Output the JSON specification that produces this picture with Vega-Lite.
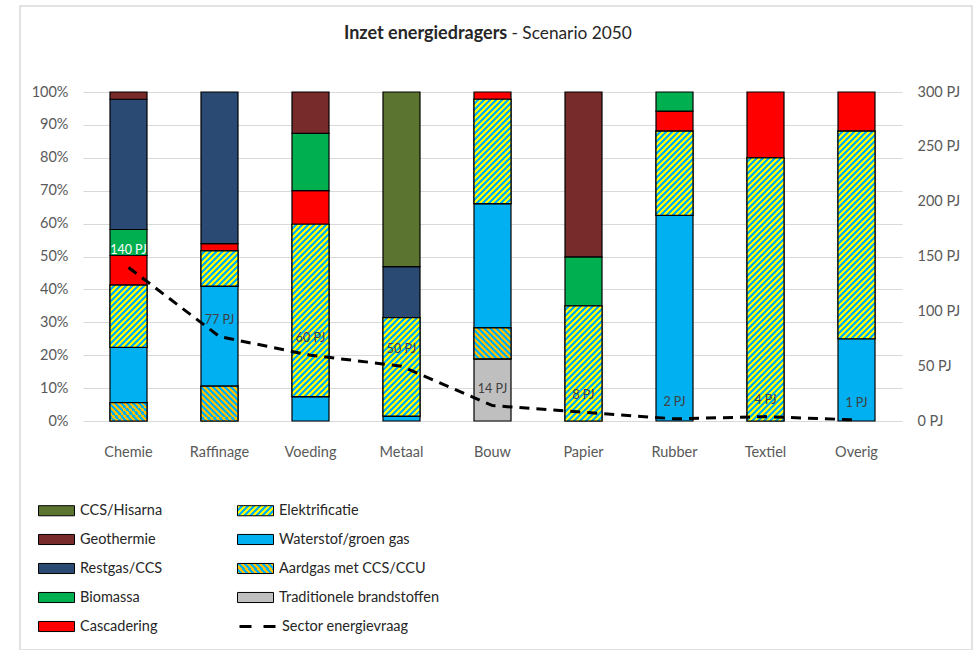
{
  "$schema": "https://vega.github.io/schema/vega-lite/v6.json",
  "autosize": {"type": "none"},
  "padding": {"left": 20, "top": 6, "right": 3, "bottom": 0},
  "width": 952,
  "height": 644,
  "background": "white",
  "title": {"text": "Inzet energiedragers", "anchor": "start", "frame": "group", "dx": 324, "fontSize": 18, "fontWeight": "bold", "font": "Lato", "color": "#262626", "offset": -51, "baseline": "alphabetic"},
  "params": [
    {"name": "stripesYB", "value": [
      {"offset":0,"color":"#ff0"},{"offset":0.01,"color":"#ff0"},{"offset":0.01,"color":"#00b0f0"},{"offset":0.02,"color":"#00b0f0"},
      {"offset":0.02,"color":"#ff0"},{"offset":0.03,"color":"#ff0"},{"offset":0.03,"color":"#00b0f0"},{"offset":0.04,"color":"#00b0f0"},
      {"offset":0.04,"color":"#ff0"},{"offset":0.05,"color":"#ff0"},{"offset":0.05,"color":"#00b0f0"},{"offset":0.06,"color":"#00b0f0"},
      {"offset":0.06,"color":"#ff0"},{"offset":0.07,"color":"#ff0"},{"offset":0.07,"color":"#00b0f0"},{"offset":0.08,"color":"#00b0f0"},
      {"offset":0.08,"color":"#ff0"},{"offset":0.09,"color":"#ff0"},{"offset":0.09,"color":"#00b0f0"},{"offset":0.10,"color":"#00b0f0"},
      {"offset":0.10,"color":"#ff0"},{"offset":0.11,"color":"#ff0"},{"offset":0.11,"color":"#00b0f0"},{"offset":0.12,"color":"#00b0f0"},
      {"offset":0.12,"color":"#ff0"},{"offset":0.13,"color":"#ff0"},{"offset":0.13,"color":"#00b0f0"},{"offset":0.14,"color":"#00b0f0"},
      {"offset":0.14,"color":"#ff0"},{"offset":0.15,"color":"#ff0"},{"offset":0.15,"color":"#00b0f0"},{"offset":0.16,"color":"#00b0f0"},
      {"offset":0.16,"color":"#ff0"},{"offset":0.17,"color":"#ff0"},{"offset":0.17,"color":"#00b0f0"},{"offset":0.18,"color":"#00b0f0"},
      {"offset":0.18,"color":"#ff0"},{"offset":0.19,"color":"#ff0"},{"offset":0.19,"color":"#00b0f0"},{"offset":0.20,"color":"#00b0f0"},
      {"offset":0.20,"color":"#ff0"},{"offset":0.21,"color":"#ff0"},{"offset":0.21,"color":"#00b0f0"},{"offset":0.22,"color":"#00b0f0"},
      {"offset":0.22,"color":"#ff0"},{"offset":0.23,"color":"#ff0"},{"offset":0.23,"color":"#00b0f0"},{"offset":0.24,"color":"#00b0f0"},
      {"offset":0.24,"color":"#ff0"},{"offset":0.25,"color":"#ff0"},{"offset":0.25,"color":"#00b0f0"},{"offset":0.26,"color":"#00b0f0"},
      {"offset":0.26,"color":"#ff0"},{"offset":0.27,"color":"#ff0"},{"offset":0.27,"color":"#00b0f0"},{"offset":0.28,"color":"#00b0f0"},
      {"offset":0.28,"color":"#ff0"},{"offset":0.29,"color":"#ff0"},{"offset":0.29,"color":"#00b0f0"},{"offset":0.30,"color":"#00b0f0"},
      {"offset":0.30,"color":"#ff0"},{"offset":0.31,"color":"#ff0"},{"offset":0.31,"color":"#00b0f0"},{"offset":0.32,"color":"#00b0f0"},
      {"offset":0.32,"color":"#ff0"},{"offset":0.33,"color":"#ff0"},{"offset":0.33,"color":"#00b0f0"},{"offset":0.34,"color":"#00b0f0"},
      {"offset":0.34,"color":"#ff0"},{"offset":0.35,"color":"#ff0"},{"offset":0.35,"color":"#00b0f0"},{"offset":0.36,"color":"#00b0f0"},
      {"offset":0.36,"color":"#ff0"},{"offset":0.37,"color":"#ff0"},{"offset":0.37,"color":"#00b0f0"},{"offset":0.38,"color":"#00b0f0"},
      {"offset":0.38,"color":"#ff0"},{"offset":0.39,"color":"#ff0"},{"offset":0.39,"color":"#00b0f0"},{"offset":0.40,"color":"#00b0f0"},
      {"offset":0.40,"color":"#ff0"},{"offset":0.41,"color":"#ff0"},{"offset":0.41,"color":"#00b0f0"},{"offset":0.42,"color":"#00b0f0"},
      {"offset":0.42,"color":"#ff0"},{"offset":0.43,"color":"#ff0"},{"offset":0.43,"color":"#00b0f0"},{"offset":0.44,"color":"#00b0f0"},
      {"offset":0.44,"color":"#ff0"},{"offset":0.45,"color":"#ff0"},{"offset":0.45,"color":"#00b0f0"},{"offset":0.46,"color":"#00b0f0"},
      {"offset":0.46,"color":"#ff0"},{"offset":0.47,"color":"#ff0"},{"offset":0.47,"color":"#00b0f0"},{"offset":0.48,"color":"#00b0f0"},
      {"offset":0.48,"color":"#ff0"},{"offset":0.49,"color":"#ff0"},{"offset":0.49,"color":"#00b0f0"},{"offset":0.50,"color":"#00b0f0"},
      {"offset":0.50,"color":"#ff0"},{"offset":0.51,"color":"#ff0"},{"offset":0.51,"color":"#00b0f0"},{"offset":0.52,"color":"#00b0f0"},
      {"offset":0.52,"color":"#ff0"},{"offset":0.53,"color":"#ff0"},{"offset":0.53,"color":"#00b0f0"},{"offset":0.54,"color":"#00b0f0"},
      {"offset":0.54,"color":"#ff0"},{"offset":0.55,"color":"#ff0"},{"offset":0.55,"color":"#00b0f0"},{"offset":0.56,"color":"#00b0f0"},
      {"offset":0.56,"color":"#ff0"},{"offset":0.57,"color":"#ff0"},{"offset":0.57,"color":"#00b0f0"},{"offset":0.58,"color":"#00b0f0"},
      {"offset":0.58,"color":"#ff0"},{"offset":0.59,"color":"#ff0"},{"offset":0.59,"color":"#00b0f0"},{"offset":0.60,"color":"#00b0f0"},
      {"offset":0.60,"color":"#ff0"},{"offset":0.61,"color":"#ff0"},{"offset":0.61,"color":"#00b0f0"},{"offset":0.62,"color":"#00b0f0"},
      {"offset":0.62,"color":"#ff0"},{"offset":0.63,"color":"#ff0"},{"offset":0.63,"color":"#00b0f0"},{"offset":0.64,"color":"#00b0f0"},
      {"offset":0.64,"color":"#ff0"},{"offset":0.65,"color":"#ff0"},{"offset":0.65,"color":"#00b0f0"},{"offset":0.66,"color":"#00b0f0"},
      {"offset":0.66,"color":"#ff0"},{"offset":0.67,"color":"#ff0"},{"offset":0.67,"color":"#00b0f0"},{"offset":0.68,"color":"#00b0f0"},
      {"offset":0.68,"color":"#ff0"},{"offset":0.69,"color":"#ff0"},{"offset":0.69,"color":"#00b0f0"},{"offset":0.70,"color":"#00b0f0"},
      {"offset":0.70,"color":"#ff0"},{"offset":0.71,"color":"#ff0"},{"offset":0.71,"color":"#00b0f0"},{"offset":0.72,"color":"#00b0f0"},
      {"offset":0.72,"color":"#ff0"},{"offset":0.73,"color":"#ff0"},{"offset":0.73,"color":"#00b0f0"},{"offset":0.74,"color":"#00b0f0"},
      {"offset":0.74,"color":"#ff0"},{"offset":0.75,"color":"#ff0"},{"offset":0.75,"color":"#00b0f0"},{"offset":0.76,"color":"#00b0f0"},
      {"offset":0.76,"color":"#ff0"},{"offset":0.77,"color":"#ff0"},{"offset":0.77,"color":"#00b0f0"},{"offset":0.78,"color":"#00b0f0"},
      {"offset":0.78,"color":"#ff0"},{"offset":0.79,"color":"#ff0"},{"offset":0.79,"color":"#00b0f0"},{"offset":0.80,"color":"#00b0f0"},
      {"offset":0.80,"color":"#ff0"},{"offset":0.81,"color":"#ff0"},{"offset":0.81,"color":"#00b0f0"},{"offset":0.82,"color":"#00b0f0"},
      {"offset":0.82,"color":"#ff0"},{"offset":0.83,"color":"#ff0"},{"offset":0.83,"color":"#00b0f0"},{"offset":0.84,"color":"#00b0f0"},
      {"offset":0.84,"color":"#ff0"},{"offset":0.85,"color":"#ff0"},{"offset":0.85,"color":"#00b0f0"},{"offset":0.86,"color":"#00b0f0"},
      {"offset":0.86,"color":"#ff0"},{"offset":0.87,"color":"#ff0"},{"offset":0.87,"color":"#00b0f0"},{"offset":0.88,"color":"#00b0f0"},
      {"offset":0.88,"color":"#ff0"},{"offset":0.89,"color":"#ff0"},{"offset":0.89,"color":"#00b0f0"},{"offset":0.90,"color":"#00b0f0"},
      {"offset":0.90,"color":"#ff0"},{"offset":0.91,"color":"#ff0"},{"offset":0.91,"color":"#00b0f0"},{"offset":0.92,"color":"#00b0f0"},
      {"offset":0.92,"color":"#ff0"},{"offset":0.93,"color":"#ff0"},{"offset":0.93,"color":"#00b0f0"},{"offset":0.94,"color":"#00b0f0"},
      {"offset":0.94,"color":"#ff0"},{"offset":0.95,"color":"#ff0"},{"offset":0.95,"color":"#00b0f0"},{"offset":0.96,"color":"#00b0f0"},
      {"offset":0.96,"color":"#ff0"},{"offset":0.97,"color":"#ff0"},{"offset":0.97,"color":"#00b0f0"},{"offset":0.98,"color":"#00b0f0"},
      {"offset":0.98,"color":"#ff0"},{"offset":0.99,"color":"#ff0"},{"offset":0.99,"color":"#00b0f0"},{"offset":1,"color":"#00b0f0"}
    ]},
    {"name": "stripesOB", "value": [
      {"offset":0,"color":"#ffc000"},{"offset":0.03125,"color":"#ffc000"},{"offset":0.03125,"color":"#00b0f0"},{"offset":0.0625,"color":"#00b0f0"},
      {"offset":0.0625,"color":"#ffc000"},{"offset":0.09375,"color":"#ffc000"},{"offset":0.09375,"color":"#00b0f0"},{"offset":0.125,"color":"#00b0f0"},
      {"offset":0.125,"color":"#ffc000"},{"offset":0.15625,"color":"#ffc000"},{"offset":0.15625,"color":"#00b0f0"},{"offset":0.1875,"color":"#00b0f0"},
      {"offset":0.1875,"color":"#ffc000"},{"offset":0.21875,"color":"#ffc000"},{"offset":0.21875,"color":"#00b0f0"},{"offset":0.25,"color":"#00b0f0"},
      {"offset":0.25,"color":"#ffc000"},{"offset":0.28125,"color":"#ffc000"},{"offset":0.28125,"color":"#00b0f0"},{"offset":0.3125,"color":"#00b0f0"},
      {"offset":0.3125,"color":"#ffc000"},{"offset":0.34375,"color":"#ffc000"},{"offset":0.34375,"color":"#00b0f0"},{"offset":0.375,"color":"#00b0f0"},
      {"offset":0.375,"color":"#ffc000"},{"offset":0.40625,"color":"#ffc000"},{"offset":0.40625,"color":"#00b0f0"},{"offset":0.4375,"color":"#00b0f0"},
      {"offset":0.4375,"color":"#ffc000"},{"offset":0.46875,"color":"#ffc000"},{"offset":0.46875,"color":"#00b0f0"},{"offset":0.5,"color":"#00b0f0"},
      {"offset":0.5,"color":"#ffc000"},{"offset":0.53125,"color":"#ffc000"},{"offset":0.53125,"color":"#00b0f0"},{"offset":0.5625,"color":"#00b0f0"},
      {"offset":0.5625,"color":"#ffc000"},{"offset":0.59375,"color":"#ffc000"},{"offset":0.59375,"color":"#00b0f0"},{"offset":0.625,"color":"#00b0f0"},
      {"offset":0.625,"color":"#ffc000"},{"offset":0.65625,"color":"#ffc000"},{"offset":0.65625,"color":"#00b0f0"},{"offset":0.6875,"color":"#00b0f0"},
      {"offset":0.6875,"color":"#ffc000"},{"offset":0.71875,"color":"#ffc000"},{"offset":0.71875,"color":"#00b0f0"},{"offset":0.75,"color":"#00b0f0"},
      {"offset":0.75,"color":"#ffc000"},{"offset":0.78125,"color":"#ffc000"},{"offset":0.78125,"color":"#00b0f0"},{"offset":0.8125,"color":"#00b0f0"},
      {"offset":0.8125,"color":"#ffc000"},{"offset":0.84375,"color":"#ffc000"},{"offset":0.84375,"color":"#00b0f0"},{"offset":0.875,"color":"#00b0f0"},
      {"offset":0.875,"color":"#ffc000"},{"offset":0.90625,"color":"#ffc000"},{"offset":0.90625,"color":"#00b0f0"},{"offset":0.9375,"color":"#00b0f0"},
      {"offset":0.9375,"color":"#ffc000"},{"offset":0.96875,"color":"#ffc000"},{"offset":0.96875,"color":"#00b0f0"},{"offset":1,"color":"#00b0f0"}
    ]}
  ],
  "datasets": {
    "aandeel": [
      {"sector": "Chemie", "drager": "Aardgas met CCS/CCU", "pct": 5.6},
      {"sector": "Chemie", "drager": "Waterstof/groen gas", "pct": 16.8},
      {"sector": "Chemie", "drager": "Elektrificatie", "pct": 18.9},
      {"sector": "Chemie", "drager": "Cascadering", "pct": 9.0},
      {"sector": "Chemie", "drager": "Biomassa", "pct": 7.9},
      {"sector": "Chemie", "drager": "Restgas/CCS", "pct": 39.6},
      {"sector": "Chemie", "drager": "Geothermie", "pct": 2.2},
      {"sector": "Raffinage", "drager": "Aardgas met CCS/CCU", "pct": 10.6},
      {"sector": "Raffinage", "drager": "Waterstof/groen gas", "pct": 30.4},
      {"sector": "Raffinage", "drager": "Elektrificatie", "pct": 10.7},
      {"sector": "Raffinage", "drager": "Cascadering", "pct": 2.2},
      {"sector": "Raffinage", "drager": "Restgas/CCS", "pct": 46.1},
      {"sector": "Voeding", "drager": "Waterstof/groen gas", "pct": 7.4},
      {"sector": "Voeding", "drager": "Elektrificatie", "pct": 52.4},
      {"sector": "Voeding", "drager": "Cascadering", "pct": 10.2},
      {"sector": "Voeding", "drager": "Biomassa", "pct": 17.4},
      {"sector": "Voeding", "drager": "Geothermie", "pct": 12.6},
      {"sector": "Metaal", "drager": "Waterstof/groen gas", "pct": 1.5},
      {"sector": "Metaal", "drager": "Elektrificatie", "pct": 29.9},
      {"sector": "Metaal", "drager": "Restgas/CCS", "pct": 15.5},
      {"sector": "Metaal", "drager": "CCS/Hisarna", "pct": 53.1},
      {"sector": "Bouw", "drager": "Traditionele brandstoffen", "pct": 18.9},
      {"sector": "Bouw", "drager": "Aardgas met CCS/CCU", "pct": 9.4},
      {"sector": "Bouw", "drager": "Waterstof/groen gas", "pct": 37.8},
      {"sector": "Bouw", "drager": "Elektrificatie", "pct": 31.7},
      {"sector": "Bouw", "drager": "Cascadering", "pct": 2.2},
      {"sector": "Papier", "drager": "Elektrificatie", "pct": 35.0},
      {"sector": "Papier", "drager": "Biomassa", "pct": 14.9},
      {"sector": "Papier", "drager": "Geothermie", "pct": 50.1},
      {"sector": "Rubber", "drager": "Waterstof/groen gas", "pct": 62.5},
      {"sector": "Rubber", "drager": "Elektrificatie", "pct": 25.6},
      {"sector": "Rubber", "drager": "Cascadering", "pct": 6.1},
      {"sector": "Rubber", "drager": "Biomassa", "pct": 5.8},
      {"sector": "Textiel", "drager": "Elektrificatie", "pct": 80.0},
      {"sector": "Textiel", "drager": "Cascadering", "pct": 20.0},
      {"sector": "Overig", "drager": "Waterstof/groen gas", "pct": 25.0},
      {"sector": "Overig", "drager": "Elektrificatie", "pct": 63.1},
      {"sector": "Overig", "drager": "Cascadering", "pct": 11.9}
    ],
    "vraag": [
      {"sector": "Chemie", "pj": 140},
      {"sector": "Raffinage", "pj": 77},
      {"sector": "Voeding", "pj": 60},
      {"sector": "Metaal", "pj": 50},
      {"sector": "Bouw", "pj": 14},
      {"sector": "Papier", "pj": 8},
      {"sector": "Rubber", "pj": 2},
      {"sector": "Textiel", "pj": 4},
      {"sector": "Overig", "pj": 1}
    ]
  },
  "layer": [
    {
      "data": {"name": "aandeel"},
      "transform": [
        {"calculate": "indexof(['Traditionele brandstoffen','Aardgas met CCS/CCU','Waterstof/groen gas','Elektrificatie','Cascadering','Biomassa','Restgas/CCS','Geothermie','CCS/Hisarna'], datum.drager)", "as": "ord"},
        {"stack": "pct", "groupby": ["sector"], "sort": [{"field": "ord", "order": "ascending"}], "as": ["y0", "y1"]}
      ],
      "layer": [
        {
          "mark": {"type": "bar", "size": 37, "stroke": "black", "strokeWidth": 1.2},
          "encoding": {
            "x": {"field": "sector", "type": "nominal",
              "scale": {"domain": ["Chemie","Raffinage","Voeding","Metaal","Bouw","Papier","Rubber","Textiel","Overig"], "range": [63, 882], "paddingInner": 0.6, "paddingOuter": 0.3},
              "axis": {"offset": -229, "labelAngle": 0, "domain": false, "ticks": false, "labelPadding": 24, "labelFontSize": 14.5, "labelColor": "#595959", "labelFont": "Lato",
                "title": "- Scenario 2050", "titleX": 491, "titleY": -383, "titleAlign": "left", "titleBaseline": "alphabetic", "titleFont": "Lato", "titleFontSize": 17.3, "titleFontWeight": "normal", "titleColor": "#262626"}},
            "y": {"field": "y0", "type": "quantitative", "scale": {"domain": [0, 100], "range": [415, 86]},
              "axis": {"offset": -63, "title": null, "values": [0,10,20,30,40,50,60,70,80,90,100], "tickCount": 11, "labelExpr": "datum.value + '%'", "labelOverlap": false, "grid": true, "gridColor": "#D9D9D9", "gridWidth": 1, "domain": false, "ticks": false, "labelPadding": 15, "labelFontSize": 14.5, "labelColor": "#595959", "labelFont": "Lato"}},
            "y2": {"field": "y1"},
            "fill": {"field": "drager", "type": "nominal",
              "scale": {
                "domain": ["CCS/Hisarna","Geothermie","Restgas/CCS","Biomassa","Cascadering","Elektrificatie","Waterstof/groen gas","Aardgas met CCS/CCU","Traditionele brandstoffen"],
                "range": ["#5B7530", "#772B2B", "#2A4A73", "#00B050", "#FF0000", {"expr": "{gradient: 'linear', x1: 0, y1: 0, x2: 7.736, y2: 2.149, stops: stripesYB}"}, "#00B0F0", {"expr": "{gradient: 'linear', x1: 0, y1: 1, x2: 2.476, y2: 0.312, stops: stripesOB}"}, "#BFBFBF"]
              },
              "legend": {"orient": "none", "legendX": 18, "legendY": 486, "columns": 2, "columnPadding": 72, "rowPadding": 3, "title": null,
                "symbolType": "M-1,-0.28H1V0.28H-1Z", "symbolSize": 1296, "symbolStrokeColor": "black", "symbolStrokeWidth": 1, "symbolOpacity": 1,
                "labelFontSize": 14.5, "labelColor": "#262626", "labelOffset": 5, "labelFont": "Lato", "padding": 0}}
          }
        },
        {
          "transform": [{"filter": "datum.drager === 'Elektrificatie' || datum.drager === 'Aardgas met CCS/CCU'"}],
          "mark": {"type": "bar", "size": 37, "stroke": "black", "strokeWidth": 1.2,
            "fill": {"expr": "datum.drager === 'Elektrificatie' ? {gradient: 'linear', x1: 0, y1: 0, x2: 300*37/(1369+pow(datum.pct*3.29,2)), y2: 300*datum.pct*3.29/(1369+pow(datum.pct*3.29,2)), stops: stripesYB} : {gradient: 'linear', x1: 0, y1: 1, x2: 96*37/(1369+pow(datum.pct*3.29,2)), y2: 1-96*datum.pct*3.29/(1369+pow(datum.pct*3.29,2)), stops: stripesOB}"}},
          "encoding": {
            "x": {"field": "sector", "type": "nominal", "scale": {"domain": ["Chemie","Raffinage","Voeding","Metaal","Bouw","Papier","Rubber","Textiel","Overig"], "range": [63, 882], "paddingInner": 0.6, "paddingOuter": 0.3}},
            "y": {"field": "y0", "type": "quantitative",
              "axis": {"offset": -63, "title": null, "values": [0,10,20,30,40,50,60,70,80,90,100], "tickCount": 11, "labelExpr": "datum.value + '%'", "labelOverlap": false, "grid": true, "gridColor": "#D9D9D9", "gridWidth": 1, "domain": false, "ticks": false, "labelPadding": 15, "labelFontSize": 14.5, "labelColor": "#595959", "labelFont": "Lato"}},
            "y2": {"field": "y1"}
          }
        }
      ]
    },
    {
      "data": {"name": "vraag"},
      "transform": [{"calculate": "datum.pj + ' PJ'", "as": "label"}],
      "layer": [
        {
          "mark": {"type": "line", "strokeDash": [10, 7], "strokeWidth": 3, "strokeCap": "butt"},
          "encoding": {
            "x": {"field": "sector", "type": "nominal", "scale": {"domain": ["Chemie","Raffinage","Voeding","Metaal","Bouw","Papier","Rubber","Textiel","Overig"], "range": [63, 882], "paddingInner": 0.6, "paddingOuter": 0.3}},
            "y": {"field": "pj", "type": "quantitative", "scale": {"domain": [0, 300], "range": [415, 86]},
              "axis": {"orient": "right", "offset": -70, "title": null, "values": [0,50,100,150,200,250,300], "labelExpr": "datum.value + ' PJ'", "labelOverlap": false, "grid": false, "domain": false, "ticks": false, "labelPadding": 15, "labelFontSize": 14.5, "labelColor": "#595959", "labelFont": "Lato"}},
            "stroke": {"datum": "Sector energievraag", "type": "nominal", "scale": {"range": ["black"]},
              "legend": {"orient": "none", "legendX": 218, "legendY": 601, "title": null, "symbolType": "stroke", "symbolSize": 1296, "symbolStrokeWidth": 3, "symbolDash": [12, 12],
                "labelFontSize": 14.5, "labelColor": "#262626", "labelOffset": 5, "labelFont": "Lato", "padding": 0}}
          }
        },
        {
          "mark": {"type": "text", "dy": -17, "fontSize": 12.5, "font": "Lato"},
          "encoding": {
            "x": {"field": "sector", "type": "nominal"},
            "y": {"field": "pj", "type": "quantitative"},
            "text": {"field": "label"},
            "color": {"condition": {"test": "datum.sector === 'Chemie'", "value": "white"}, "value": "#404040"}
          }
        }
      ]
    }
  ],
  "resolve": {"scale": {"y": "independent"}},
  "config": {"view": {"stroke": "#D9D9D9", "strokeWidth": 1.5}, "font": "Lato"}
}
